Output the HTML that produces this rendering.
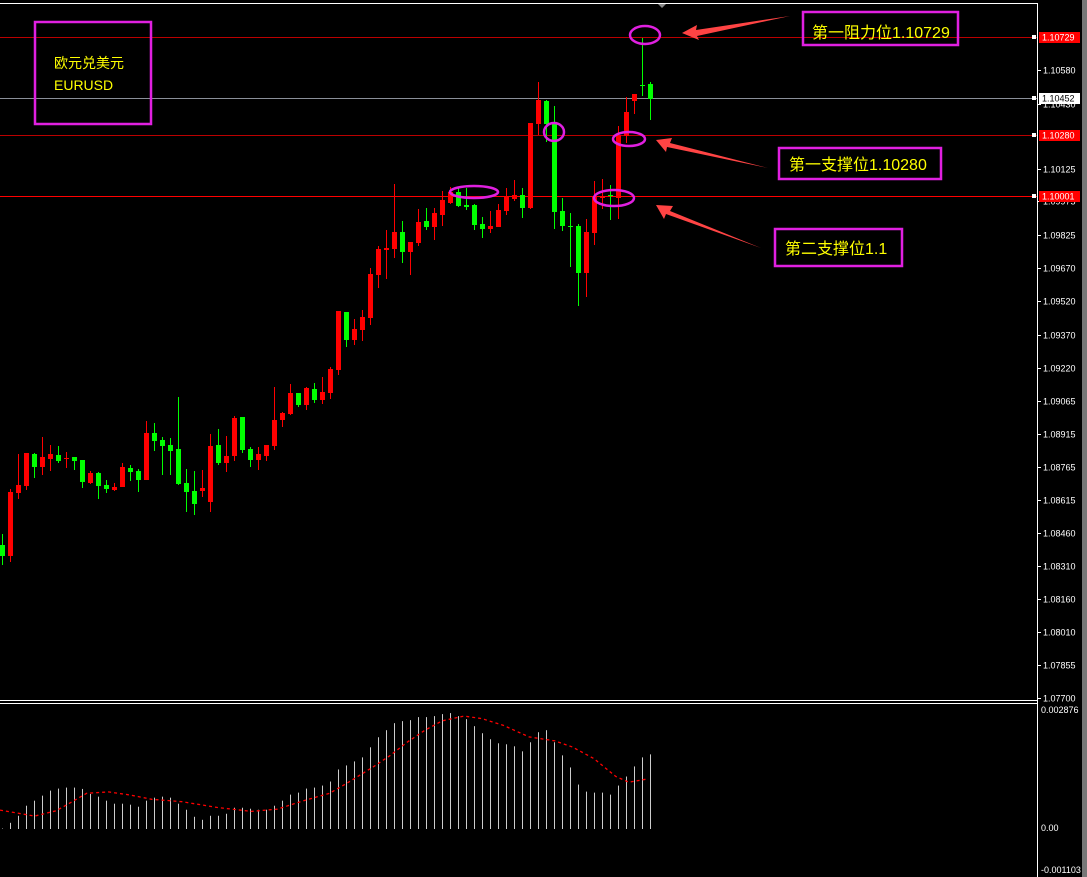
<!DOCTYPE html>
<html><head><meta charset="utf-8"><style>
html,body{margin:0;padding:0;background:#000;width:1087px;height:877px;overflow:hidden}
svg{display:block}
text{font-family:"Liberation Sans","Noto Sans CJK SC",sans-serif}
</style></head><body>
<svg id="s" width="1087" height="877" xmlns="http://www.w3.org/2000/svg">
<rect width="1087" height="877" fill="#000"/>
<rect x="1082" y="0" width="5" height="877" fill="#777"/>
<line x1="0" y1="3.5" x2="1037" y2="3.5" stroke="#fff"/>
<line x1="1037.5" y1="3" x2="1037.5" y2="877" stroke="#fff"/>
<line x1="0" y1="700.5" x2="1037" y2="700.5" stroke="#fff"/>
<line x1="0" y1="703.5" x2="1037" y2="703.5" stroke="#fff"/>
<polygon points="658,4 666,4 662,8" fill="#888"/>
<line x1="0" y1="37.5" x2="1037" y2="37.5" stroke="#b00"/>
<line x1="0" y1="98.5" x2="1037" y2="98.5" stroke="#8a8f99"/>
<line x1="0" y1="135.5" x2="1037" y2="135.5" stroke="#b00"/>
<line x1="0" y1="196.5" x2="1037" y2="196.5" stroke="#f00"/>
<g id="c"></g>
<g id="m"></g>
<g id="ax" font-size="9" fill="#fff"></g>
<g fill="none" stroke="#e020e0" stroke-width="2.5">
<ellipse cx="645" cy="35" rx="15" ry="9"/>
<ellipse cx="554" cy="132" rx="10" ry="9"/>
<ellipse cx="629" cy="139" rx="16" ry="7"/>
<ellipse cx="474" cy="192" rx="24" ry="6"/>
<ellipse cx="614" cy="198" rx="20" ry="8"/>
</g>
<g fill="#f44">
<polygon points="682,33 697,25 696,30 790,16 697,36 699,40"/>
<polygon points="656,140 672,138 670,143 768,168 667,147 666,152"/>
<polygon points="656,205 673,206 670,211 761,248 666,214 664,219"/>
</g>
<g fill="none" stroke="#e020e0" stroke-width="2.5">
<rect x="35" y="22" width="116" height="102"/>
<rect x="803" y="12" width="155" height="33"/>
<rect x="779" y="148" width="162" height="31"/>
<rect x="775" y="229" width="127" height="37"/>
</g>
<g fill="#ff0" font-size="15">
<text x="54" y="68" font-size="14">欧元兑美元</text>
<text x="54" y="90" font-size="14">EURUSD</text>
<text x="812" y="38" font-size="16">第一阻力位1.10729</text>
<text x="789" y="170" font-size="16">第一支撑位1.10280</text>
<text x="785" y="254" font-size="16">第二支撑位1.1</text>
</g>
</svg>
<script>
var NS="http://www.w3.org/2000/svg";
function el(p,t,a){var e=document.createElementNS(NS,t);for(var k in a)e.setAttribute(k,a[k]);p.appendChild(e);return e;}
var C=[[545,556,534,565,'g'],[492,556,489,562,'r'],[485,493,454,499,'r'],[453,486,453,490,'r'],[454,467,453,478,'g'],[457,467,437,475,'r'],[454,459,445,471,'r'],[455,461,446,463,'g'],[458,459,452,468,'r'],[457,461,457,470,'g'],
[460,482,460,488,'g'],[473,483,471,484,'r'],[473,486,472,499,'g'],[485,489,480,493,'g'],[487,490,483,491,'r'],[467,487,463,487,'r'],[468,472,465,481,'g'],[471,480,469,492,'g'],[433,480,421,480,'r'],[433,441,423,451,'g'],
[440,446,437,475,'g'],[445,451,438,475,'g'],[449,484,397,485,'g'],[483,492,469,512,'g'],[491,504,471,515,'g'],[488,491,470,497,'r'],[446,502,434,512,'r'],[445,463,429,465,'g'],[456,463,436,472,'r'],[418,456,416,461,'r'],
[417,450,417,453,'g'],[449,460,447,467,'g'],[454,460,447,470,'r'],[445,456,445,461,'r'],[420,446,387,450,'r'],[413,420,412,427,'r'],[393,414,384,415,'r'],[393,405,393,407,'g'],[388,405,387,410,'r'],[389,400,383,403,'g'],
[392,400,377,404,'r'],[369,393,367,399,'r'],[311,370,311,375,'r'],[312,340,312,347,'g'],[329,340,319,345,'r'],[317,330,310,341,'r'],[274,318,268,325,'r'],[249,275,246,288,'r'],[248,250,230,279,'r'],[232,249,184,258,'r'],
[232,252,221,263,'g'],[242,252,242,275,'r'],[222,243,209,246,'r'],[221,227,208,230,'g'],[213,227,208,240,'r'],[200,215,191,226,'r'],[192,203,187,204,'r'],[192,206,188,207,'g'],[205,207,188,210,'g'],[205,225,204,230,'g'],
[224,229,217,238,'g'],[226,229,211,233,'r'],[210,227,204,227,'r'],[196,211,188,215,'r'],[195,199,180,201,'r'],[195,208,188,218,'g'],[123,208,123,209,'r'],[100,124,82,135,'r'],[101,124,100,142,'g'],[124,212,106,229,'g'],
[211,226,198,231,'g'],[226,227,213,267,'g'],[226,273,224,306,'g'],[232,273,219,297,'r'],[197,233,181,245,'r'],[196,198,179,209,'r'],[195,196,185,220,'g'],[135,198,126,219,'r'],[112,136,97,143,'r'],[94,101,94,114,'r'],
[85,86,38,96,'g'],[84,99,82,120,'g']];
var g=document.getElementById('c');
C.forEach(function(d,i){var x=2+8*i;var col=d[4]=='g'?'#00ff00':'#ff0000';
el(g,'rect',{x:x,y:d[2],width:1,height:d[3]-d[2],fill:col});
var h=Math.max(1,d[1]-d[0]);el(g,'rect',{x:x-2,y:d[0],width:5,height:h,fill:col});});
var T=[383,366,345,315,300,285,270,264,261,261,265,280,288,300,309,309,312,318,300,291,288,291,309,327,348,357,345,345,339,321,321,324,327,327,315,300,282,276,264,261,255,243,207,195,183,171,141,111,90,69,63,60,51,51,48,42,39,48,57,78,99,117,129,132,138,153,126,96,90,126,165,201,252,273,276,276,282,255,228,198,171,162];
var m=document.getElementById('m');
T.forEach(function(t,i){var x=2+8*i;var y=700+t/2.98;el(m,'rect',{x:x,y:y,width:1,height:829-y,fill:'#ccc'});});
var S=[[0,328],[80,346],[130,330],[200,278],[250,274],[300,283],[350,296],[420,303],[500,320],[580,332],[640,325],[700,300],[760,278],[800,248],[860,200],[900,165],[940,125],[980,90],[1020,62],[1070,48],[1110,55],[1160,75],[1220,110],[1280,122],[1320,140],[1370,175],[1420,228],[1450,245],[1490,236]];
var pts=S.map(function(p){return (p[0]/2.306).toFixed(1)+','+(700+p[1]/2.98).toFixed(1)}).join(' ');
el(m,'polyline',{points:pts,fill:'none',stroke:'#ff0000','stroke-width':1.3,'stroke-dasharray':'3,3'});
var ax=document.getElementById('ax');
var L=[['1.10580',70],['1.10125',169],['1.09975',201],['1.09825',235],['1.09670',268],['1.09520',301],['1.09370',335],['1.09220',368],['1.09065',401],['1.08915',434],['1.08765',467],['1.08615',500],['1.08460',533],['1.08310',566],['1.08160',599],['1.08010',632],['1.07855',665],['1.07700',698],['1.10430',104]];
L.forEach(function(l){el(ax,'line',{x1:1037,y1:l[1]+.5,x2:1041,y2:l[1]+.5,stroke:'#fff'});var t=el(ax,'text',{x:1043,y:l[1]+3.5});t.textContent=l[0];});
[['1.10729',37,'#f00','#fff'],['1.10280',135,'#f00','#fff'],['1.10001',196,'#f00','#fff'],['1.10452',98,'#fff','#000']].forEach(function(l){
el(ax,'rect',{x:1039,y:l[1]-5,width:41,height:11,fill:l[2]});el(ax,'rect',{x:1032,y:l[1]-2,width:4,height:4,fill:'#fff'});
var t=el(ax,'text',{x:1042,y:l[1]+3.5,fill:l[3]});t.textContent=l[0];});
[['0.002876',713],['0.00',831],['-0.001103',873]].forEach(function(l){var t=el(ax,'text',{x:1041,y:l[1]});t.textContent=l[0];});
</script>
</body></html>
